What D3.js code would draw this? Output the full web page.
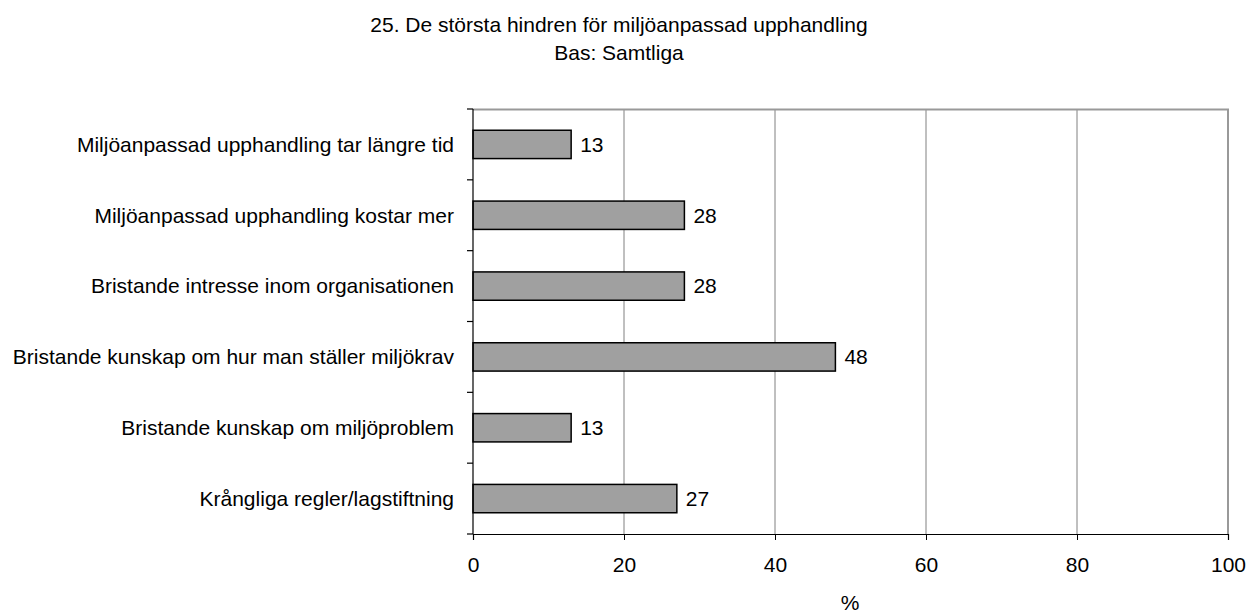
<!DOCTYPE html>
<html>
<head>
<meta charset="utf-8">
<script src="https://cdn.jsdelivr.net/npm/d3@7"></script>
<style>
  body { margin: 0; background: #fff; }
  text { font-family: "Liberation Sans", Arial, sans-serif; fill: #000; }
</style>
</head>
<body>
<svg width="1248" height="615"></svg>
<script>
const categories = [
  "Miljöanpassad upphandling tar längre tid",
  "Miljöanpassad upphandling kostar mer",
  "Bristande intresse inom organisationen",
  "Bristande kunskap om hur man ställer miljökrav",
  "Bristande kunskap om miljöproblem",
  "Krångliga regler/lagstiftning"
];
const values = [13, 28, 28, 48, 13, 27];
const xTicks = [0, 20, 40, 60, 80, 100];
const titleLines = ["25. De största hindren för miljöanpassad upphandling", "Bas: Samtliga"];

const fontSize = "21px";
const margin = { top: 109, right: 20, bottom: 81, left: 473 },
  width = 1248 - margin.left - margin.right,
  height = 615 - margin.top - margin.bottom;

const svg = d3.select("svg");

// titles
svg.selectAll("text.title")
  .data(titleLines)
  .enter()
  .append("text")
  .attr("class", "title")
  .attr("x", 619)
  .attr("y", (d, i) => 32 + i * 28)
  .attr("text-anchor", "middle")
  .style("font-size", fontSize)
  .text(d => d);

const g = svg.append("g")
  .attr("transform", `translate(${margin.left}, ${margin.top})`);

const x = d3.scaleLinear().domain([0, 100]).range([0, 755]);
const y = d3.scaleBand().domain(categories).range([0, height]).paddingInner(0.6).paddingOuter(0.3);

// grid lines
g.selectAll("line.grid")
  .data(xTicks.slice(1, -1))
  .enter()
  .append("line")
  .attr("class", "grid")
  .attr("x1", d => x(d))
  .attr("x2", d => x(d))
  .attr("y1", 0)
  .attr("y2", height)
  .attr("stroke", "#808080")
  .attr("stroke-width", 1);

// plot frame top / right
g.append("path")
  .attr("d", `M0,0.5H${x(100)}V${height}`)
  .attr("fill", "none")
  .attr("stroke", "#999")
  .attr("stroke-width", 2);

// bars
g.selectAll("rect.bar")
  .data(values)
  .enter()
  .append("rect")
  .attr("class", "bar")
  .attr("x", x(0))
  .attr("y", (d, i) => y(categories[i]))
  .attr("width", d => x(d))
  .attr("height", y.bandwidth())
  .attr("fill", "#a0a0a0")
  .attr("stroke", "#000")
  .attr("stroke-width", 1.5);

// value labels
g.selectAll("text.val")
  .data(values)
  .enter()
  .append("text")
  .attr("class", "val")
  .attr("x", d => x(d) + 9)
  .attr("y", (d, i) => y(categories[i]) + y.bandwidth() / 2)
  .attr("dy", "0.35em")
  .style("font-size", fontSize)
  .text(d => d);

// y axis: line + ticks at band edges
const step = height / categories.length;
g.append("line")
  .attr("x1", 0).attr("x2", 0)
  .attr("y1", 0).attr("y2", height)
  .attr("stroke", "#000").attr("stroke-width", 1.2);
g.selectAll("line.ytick")
  .data(d3.range(categories.length + 1))
  .enter()
  .append("line")
  .attr("class", "ytick")
  .attr("x1", -6).attr("x2", 0)
  .attr("y1", d => d * step).attr("y2", d => d * step)
  .attr("stroke", "#000").attr("stroke-width", 1.2);

// category labels
g.selectAll("text.cat")
  .data(categories)
  .enter()
  .append("text")
  .attr("class", "cat")
  .attr("x", -19)
  .attr("y", d => y(d) + y.bandwidth() / 2)
  .attr("dy", "0.35em")
  .attr("text-anchor", "end")
  .style("font-size", fontSize)
  .text(d => d);

// x axis
const xAxis = g.append("g")
  .attr("transform", `translate(0, ${height})`)
  .call(d3.axisBottom(x).tickValues(xTicks).tickSize(6).tickPadding(0));
xAxis.select(".domain").attr("stroke-width", 1.2);
xAxis.selectAll(".tick line").attr("stroke-width", 1);
xAxis.selectAll("text")
  .attr("y", 38)
  .attr("dy", null)
  .style("font-size", fontSize)
  .style("font-family", "Liberation Sans, Arial, sans-serif");

// axis title
svg.append("text")
  .attr("x", 850)
  .attr("y", 610)
  .attr("text-anchor", "middle")
  .style("font-size", fontSize)
  .text("%");
</script>
</body>
</html>
